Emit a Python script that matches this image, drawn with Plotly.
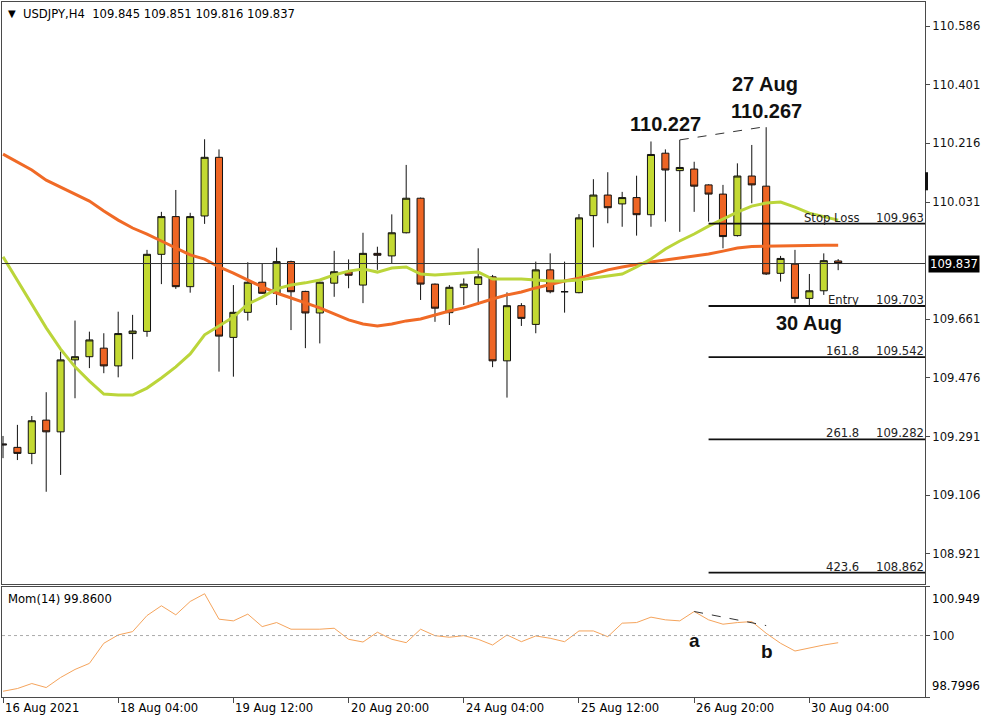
import plotly.graph_objects as go
import pandas as pd

# ---------------- data ----------------
days_hours = [
    ("2021-08-16", ["20:00"]),
    ("2021-08-17", ["00:00", "04:00", "08:00", "12:00", "16:00", "20:00"]),
    ("2021-08-18", ["00:00", "04:00", "08:00", "12:00", "16:00", "20:00"]),
    ("2021-08-19", ["00:00", "04:00", "08:00", "12:00", "16:00", "20:00"]),
    ("2021-08-20", ["00:00", "04:00", "08:00", "12:00", "16:00", "20:00"]),
    ("2021-08-23", ["00:00", "04:00", "08:00", "12:00", "16:00", "20:00"]),
    ("2021-08-24", ["00:00", "04:00", "08:00", "12:00", "16:00", "20:00"]),
    ("2021-08-25", ["00:00", "04:00", "08:00", "12:00", "16:00", "20:00"]),
    ("2021-08-26", ["00:00", "04:00", "08:00", "12:00", "16:00", "20:00"]),
    ("2021-08-27", ["00:00", "04:00", "08:00", "12:00", "16:00", "20:00"]),
    ("2021-08-30", ["00:00", "04:00", "08:00", "12:00"]),
]
times = [pd.Timestamp(f"{d} {h}") for d, hs in days_hours for h in hs]

opens = [109.268, 109.257, 109.238, 109.343, 109.306, 109.533, 109.543, 109.570, 109.514, 109.616,
         109.623, 109.866, 109.985, 109.764, 109.987, 110.172, 109.604, 109.683, 109.778, 109.743,
         109.843, 109.749, 109.681, 109.775, 109.811, 109.769, 109.869, 109.861, 109.934, 110.043,
         109.772, 109.682, 109.761, 109.771, 109.795, 109.530, 109.704, 109.645, 109.817, 109.748,
         109.745, 109.988, 110.053, 110.025, 110.045, 109.991, 110.185, 110.130, 110.135, 110.085,
         110.056, 109.925, 110.113, 110.081, 109.806, 109.835, 109.727, 109.751, 109.845]
highs = [109.293, 109.328, 109.356, 109.431, 109.559, 109.657, 109.622, 109.617, 109.685, 109.675,
         109.880, 110.000, 110.069, 109.997, 110.229, 110.197, 109.769, 109.841, 109.838, 109.887,
         109.846, 109.751, 109.780, 109.877, 109.850, 109.934, 109.890, 109.992, 110.148, 110.045,
         109.774, 109.769, 109.790, 109.885, 109.801, 109.746, 109.712, 109.843, 109.869, 109.843,
         109.993, 110.103, 110.125, 110.063, 110.114, 110.222, 110.197, 110.227, 110.158, 110.087,
         110.085, 110.153, 110.211, 110.267, 109.861, 109.880, 109.804, 109.869, 109.851]
lows = [109.223, 109.217, 109.204, 109.117, 109.170, 109.412, 109.507, 109.491, 109.478, 109.535,
        109.606, 109.772, 109.757, 109.745, 109.962, 109.496, 109.480, 109.657, 109.741, 109.706,
        109.627, 109.570, 109.585, 109.732, 109.759, 109.712, 109.817, 109.838, 109.932, 109.722,
        109.653, 109.643, 109.706, 109.706, 109.510, 109.414, 109.640, 109.617, 109.743, 109.682,
        109.743, 109.888, 109.964, 109.953, 109.925, 109.953, 109.969, 109.937, 110.000, 109.969,
        109.885, 109.922, 110.027, 109.801, 109.780, 109.712, 109.703, 109.738, 109.816]
closes = [109.265, 109.238, 109.341, 109.306, 109.533, 109.543, 109.596, 109.514, 109.616, 109.624,
          109.866, 109.985, 109.764, 109.985, 110.172, 109.608, 109.683, 109.778, 109.743, 109.843,
          109.748, 109.681, 109.778, 109.811, 109.800, 109.869, 109.863, 109.934, 110.043, 109.772,
          109.696, 109.762, 109.772, 109.795, 109.530, 109.704, 109.664, 109.817, 109.748, 109.748,
          109.981, 110.053, 110.013, 110.045, 109.991, 110.181, 110.132, 110.140, 110.081, 110.056,
          109.922, 110.113, 110.085, 109.804, 109.853, 109.727, 109.751, 109.846, 109.837]

ma_fast = [109.858, 109.782, 109.706, 109.634, 109.567, 109.511, 109.466, 109.425, 109.422, 109.422,
           109.444, 109.476, 109.511, 109.552, 109.612, 109.640, 109.668, 109.709, 109.731, 109.757,
           109.769, 109.776, 109.785, 109.801, 109.813, 109.820, 109.810, 109.823, 109.826, 109.804,
           109.801, 109.804, 109.807, 109.810, 109.788, 109.788, 109.788, 109.785, 109.782, 109.782,
           109.785, 109.791, 109.798, 109.804, 109.826, 109.851, 109.883, 109.908, 109.930, 109.955,
           109.977, 109.999, 110.018, 110.028, 110.031, 110.015, 109.996, 109.984, 109.974]
ma_slow = [110.182, 110.157, 110.132, 110.100, 110.078, 110.056, 110.034, 110.003, 109.974, 109.949,
           109.930, 109.908, 109.886, 109.864, 109.851, 109.826, 109.807, 109.785, 109.763, 109.744,
           109.728, 109.712, 109.697, 109.678, 109.659, 109.646, 109.640, 109.646, 109.656, 109.662,
           109.675, 109.687, 109.697, 109.712, 109.725, 109.738, 109.747, 109.760, 109.772, 109.782,
           109.791, 109.804, 109.817, 109.826, 109.835, 109.842, 109.848, 109.854, 109.861, 109.867,
           109.876, 109.886, 109.891, 109.892, 109.894, 109.895, 109.895, 109.895, 109.895]

momentum = [98.912, 98.965, 99.063, 98.984, 99.181, 99.338, 99.456, 99.849, 100.012, 100.077,
            100.391, 100.582, 100.405, 100.666, 100.817, 100.320, 100.287, 100.419, 100.175, 100.254,
            100.124, 100.124, 100.124, 100.143, 99.927, 99.874, 100.065, 99.927, 99.861, 100.124,
            99.998, 99.967, 99.998, 99.927, 99.815, 100.012, 99.880, 99.992, 99.947, 99.880,
            100.090, 100.090, 99.978, 100.242, 100.254, 100.360, 100.307, 100.287, 100.470, 100.307,
            100.222, 100.254, 100.273, 100.045, 99.849, 99.698, 99.762, 99.815, 99.860]

price_ticks = [110.586, 110.401, 110.216, 110.031, 109.661, 109.476, 109.291, 109.106, 108.921]
mom_min, mom_mid, mom_max = 98.7996, 100.0, 100.949

level_names = ["Stop Loss", "Entry", "161.8", "261.8", "423.6"]
level_prices = [109.963, 109.703, 109.542, 109.282, 108.862]
level_start_bar = 49

trend_price = [(47, 110.227), (53, 110.267)]
trend_mom = [(48, 100.470), (53, 100.195)]

big_labels = [("110.227", 46.0, 110.276), ("110.267", 53.05, 110.319),
              ("27 Aug", 52.9, 110.403), ("30 Aug", 56.0, 109.649)]
mom_labels = [("a", 48.05, 99.894), ("b", 53.05, 99.684)]

# ---------------- style ----------------
GREEN = "#C3D932"
ORANGE = "#EE6524"
MA_FAST_C = "#BBD53A"
MA_SLOW_C = "#F06A26"
MOM_C = "#F5A45C"
FRAME = "#4a4a4a"
FONT = "DejaVu Sans"
FS = 11.6

xi = list(range(len(times)))

fig = go.Figure()
fig.add_trace(go.Candlestick(
    x=xi, open=opens, high=highs, low=lows, close=closes,
    increasing=dict(fillcolor=GREEN, line=dict(color="#111", width=1)),
    decreasing=dict(fillcolor=ORANGE, line=dict(color="#111", width=1)),
    whiskerwidth=0, showlegend=False, hoverinfo="skip", xaxis="x", yaxis="y"))
fig.add_trace(go.Scatter(x=xi, y=ma_slow, mode="lines", line=dict(color=MA_SLOW_C, width=3),
                         showlegend=False, hoverinfo="skip", xaxis="x", yaxis="y"))
fig.add_trace(go.Scatter(x=xi, y=ma_fast, mode="lines", line=dict(color=MA_FAST_C, width=3),
                         showlegend=False, hoverinfo="skip", xaxis="x", yaxis="y"))
fig.add_trace(go.Scatter(x=xi, y=momentum, mode="lines", line=dict(color=MOM_C, width=1),
                         showlegend=False, hoverinfo="skip", xaxis="x2", yaxis="y2"))

xr = [-0.07, 64.03]
shapes = []
annotations = []

# current price line
last_close = closes[-1]
shapes.append(dict(type="line", xref="paper", yref="y", x0=0, x1=1, y0=last_close, y1=last_close,
                   line=dict(color="#333", width=1)))
# level lines
for name, p in zip(level_names, level_prices):
    shapes.append(dict(type="line", xref="x", yref="y", x0=level_start_bar, x1=xr[1], y0=p, y1=p,
                       line=dict(color="#111", width=1.8)))
    annotations.append(dict(text=name, xref="paper", yref="y", x=1, y=p, xanchor="right",
                            yanchor="bottom", xshift=-64, yshift=-3, showarrow=False,
                            font=dict(family=FONT, size=FS, color="#222")))
    annotations.append(dict(text=f"{p:.3f}", xref="paper", yref="y", x=1, y=p, xanchor="right",
                            yanchor="bottom", xshift=1, yshift=-3, showarrow=False,
                            font=dict(family=FONT, size=FS, color="#222")))
# trend lines
(tx0, ty0), (tx1, ty1) = trend_price
shapes.append(dict(type="line", xref="x", yref="y", x0=tx0, x1=tx1 - 0.3, y0=ty0, y1=ty1,
                   line=dict(color="#333", width=1, dash="dash")))
(mx0, my0), (mx1, my1) = trend_mom
shapes.append(dict(type="line", xref="x2", yref="y2", x0=mx0, x1=mx1, y0=my0, y1=my1,
                   line=dict(color="#333", width=1, dash="dash")))
# momentum 100 dotted level
shapes.append(dict(type="line", xref="paper", yref="y2", x0=0, x1=1, y0=mom_mid, y1=mom_mid,
                   line=dict(color="#aaa", width=1, dash="dot")))
# small black marker on the price axis
shapes.append(dict(type="rect", xref="paper", yref="y", xsizemode="pixel", xanchor=1,
                   x0=0, x1=3, y0=110.068, y1=110.125, fillcolor="#111", line=dict(width=0)))

for txt, x, y in big_labels:
    annotations.append(dict(text=f"<b>{txt}</b>", x=x, y=y, xref="x", yref="y", showarrow=False,
                            font=dict(family="Liberation Sans", size=20, color="#111")))
for txt, x, y in mom_labels:
    annotations.append(dict(text=f"<b>{txt}</b>", x=x, y=y, xref="x2", yref="y2", showarrow=False,
                            font=dict(family="Liberation Sans", size=19, color="#111")))

# current price box
annotations.append(dict(text=f"{last_close:.3f}", xref="paper", yref="y", x=1, y=last_close,
                        xanchor="left", xshift=3, showarrow=False, bgcolor="#000", borderpad=1,
                        font=dict(family=FONT, size=FS, color="#fff")))

# header
annotations.append(dict(text="▼", xref="paper", yref="paper", x=0, y=1, xanchor="left", yanchor="top",
                        xshift=4, yshift=-4, showarrow=False, font=dict(family=FONT, size=10, color="#000")))
hdr = f"USDJPY,H4\u00a0\u00a0{opens[-1]:.3f} {highs[-1]:.3f} {lows[-1]:.3f} {closes[-1]:.3f}"
annotations.append(dict(text=hdr, xref="paper", yref="paper", x=0, y=1, xanchor="left", yanchor="top",
                        xshift=19, yshift=-3, showarrow=False, font=dict(family=FONT, size=FS, color="#000")))
annotations.append(dict(text=f"Mom(14) {momentum[-1]:.4f}", xref="paper", yref="y2 domain", x=0, y=1,
                        xanchor="left", yanchor="top", xshift=4, yshift=-3, showarrow=False,
                        font=dict(family=FONT, size=FS, color="#000")))
# momentum max/min labels (drawn inside the panel edges, MT4 style)
annotations.append(dict(text=f"{mom_max:.3f}", xref="paper", yref="y2 domain", x=1, y=1, xanchor="left",
                        yanchor="top", xshift=5, yshift=-3, showarrow=False,
                        font=dict(family=FONT, size=FS, color="#000")))
annotations.append(dict(text=f"{mom_min:.4f}", xref="paper", yref="y2 domain", x=1, y=0, xanchor="left",
                        yanchor="bottom", xshift=5, yshift=2, showarrow=False,
                        font=dict(family=FONT, size=FS, color="#000")))

# time axis labels (left aligned at ticks)
tick_idx = xi[::8]
for k, i in enumerate(tick_idx):
    t = times[i]
    lab = t.strftime("%-d %b %Y") if k == 0 else t.strftime("%-d %b %H:%M")
    annotations.append(dict(text=lab, x=i, xref="x2", y=0, yref="paper", xanchor="left", yanchor="top",
                            yshift=-2, showarrow=False, font=dict(family=FONT, size=FS, color="#000")))

fig.update_layout(
    template="none",
    width=991, height=721,
    margin=dict(l=2, r=66, t=2, b=24),
    paper_bgcolor="white", plot_bgcolor="white",
    showlegend=False,
    xaxis=dict(domain=[0, 1], range=xr, anchor="y", showticklabels=False, ticks="",
               showline=True, linecolor=FRAME, linewidth=1, mirror=True, showgrid=False,
               zeroline=False, rangeslider=dict(visible=False), automargin=False),
    yaxis=dict(domain=[0.1626, 1], range=[108.826, 110.662], side="right", tickvals=price_ticks,
               ticktext=[f"{v:.3f}" for v in price_ticks], ticks="outside", ticklen=4,
               tickcolor=FRAME, showline=True, linecolor=FRAME, mirror=True, showgrid=False,
               zeroline=False, automargin=False, tickfont=dict(family=FONT, size=FS, color="#111")),
    xaxis2=dict(domain=[0, 1], range=xr, anchor="y2", matches="x", tickvals=tick_idx,
                showticklabels=False, ticks="outside", ticklen=5, tickcolor=FRAME,
                showline=True, linecolor=FRAME, mirror=True, showgrid=False, zeroline=False,
                automargin=False),
    yaxis2=dict(domain=[0, 0.1583], range=[mom_min, mom_max], side="right",
                tickvals=[mom_max, mom_mid, mom_min], ticktext=["", "100", ""], ticks="outside",
                ticklen=4, tickcolor=FRAME, showline=True, linecolor=FRAME, mirror=True,
                showgrid=False, zeroline=False, automargin=False,
                tickfont=dict(family=FONT, size=FS, color="#111")),
    shapes=shapes,
    annotations=annotations,
)

fig.write_html("out.html")
